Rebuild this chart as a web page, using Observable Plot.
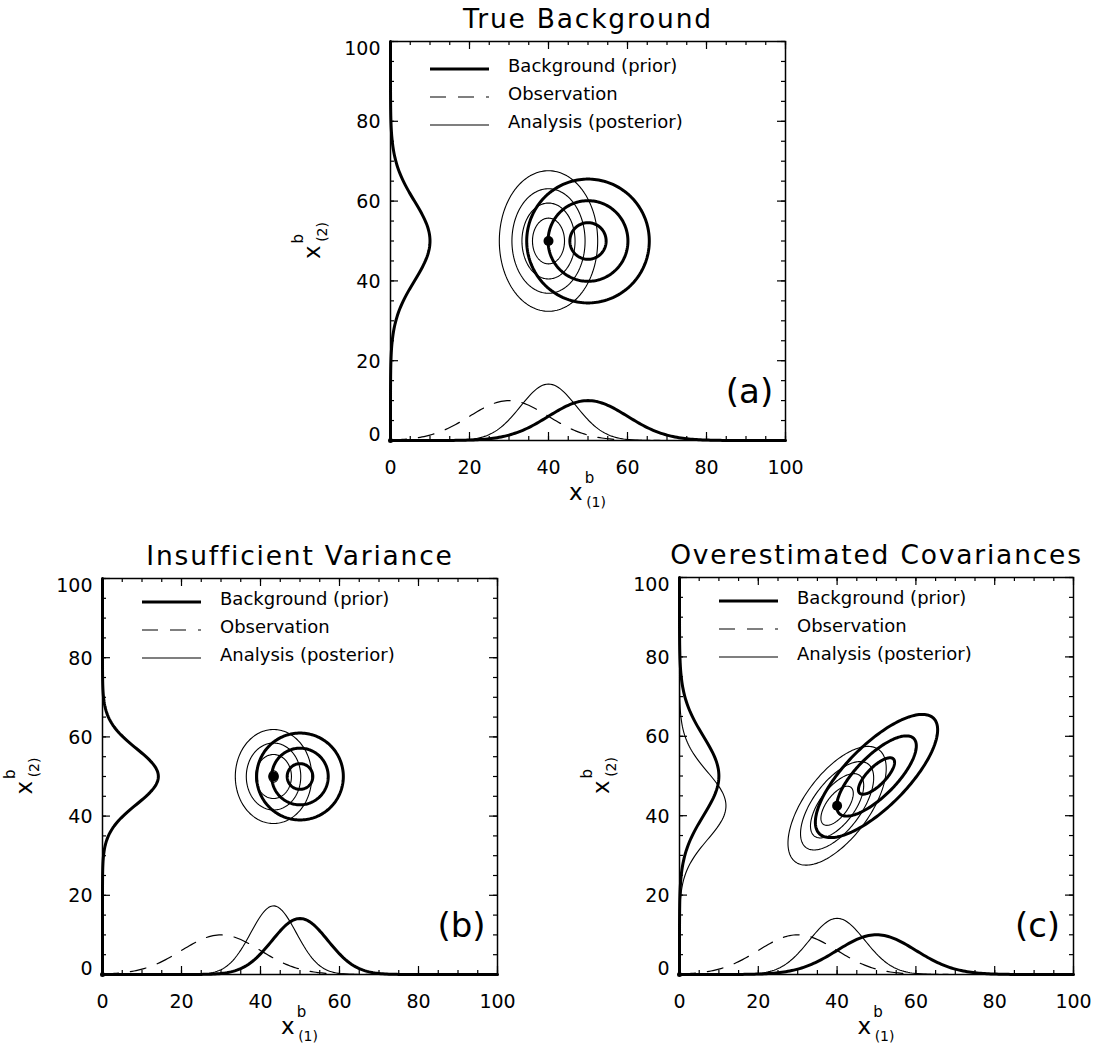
<!DOCTYPE html>
<html><head><meta charset="utf-8">
<script src="https://cdn.jsdelivr.net/npm/d3@7"></script>
<script src="https://cdn.jsdelivr.net/npm/@observablehq/plot@0.6"></script>
<style>
body{margin:0;background:#fff;}
#fig{position:relative;width:1100px;height:1052px;background:#fff;overflow:hidden;}
#fig svg{position:absolute;overflow:visible;}
</style></head><body><div id="fig"></div>
<script>
// ---------- data ----------
const panelIds = ["a", "b", "c"];
const panelTitles = ["True Background", "Insufficient Variance", "Overestimated Covariances"];
const panelLabels = ["(a)", "(b)", "(c)"];
const legendLabels = ["Background (prior)", "Observation", "Analysis (posterior)"];
const majorTicks = [0, 20, 40, 60, 80, 100];
const minorTicks = [0,5,10,15,20,25,30,35,40,45,50,55,60,65,70,75,80,85,90,95,100];

// background (prior) gaussian
const bgMeanX = [50, 50, 50];
const bgMeanY = [50, 50, 50];
const bgSigX = [10, 7.07, 10];
const bgSigY = [10, 7.07, 10];
const bgRho = [0, 0, 0.75];
// observation of x(1)
const obsMean = [30, 30, 30];
const obsSig = [10, 10, 10];
// analysis (posterior)
const anMeanX = [40, 43.3, 40];
const anMeanY = [50, 50, 42.5];
const anSigX = [7.07, 5.77, 7.07];
const anSigY = [10, 7.07, 8.48];
const anRho = [0, 0, 0.63];
// contour levels as fraction of the background peak density
const contourLevels = [0.3, 0.6, 0.9, 1.2];
// marginal curves: peak height = marginalScale / sigma
const marginalScale = 100;
const sampleGrid = d3.range(0, 100.001, 0.5);
const ellipseSteps = d3.range(0, 181);

// ---------- layout ----------
const layout = [
  {left: 390, top: 41, right: 785, bottom: 440, legendTop: 28},
  {left: 102, top: 578, right: 497, bottom: 974, legendTop: 24},
  {left: 679, top: 577, right: 1073, bottom: 974, legendTop: 24}
];
const FONT = "'DejaVu Sans', sans-serif";

function gauss(v, mu, s) {
  return (marginalScale / s) * Math.exp(-((v - mu) ** 2) / (2 * s * s));
}
function ellipses(mx, my, sx, sy, rho, peakRatio, kind) {
  const rows = [];
  for (const lev of contourLevels) {
    if (lev >= peakRatio) continue;
    const r = Math.sqrt(2 * Math.log(peakRatio / lev));
    for (const k of ellipseSteps) {
      const t = 2 * Math.PI * k / 180;
      rows.push({kind, level: lev,
        x: mx + r * sx * Math.cos(t),
        y: my + r * sy * (rho * Math.cos(t) + Math.sqrt(1 - rho * rho) * Math.sin(t))});
    }
  }
  return rows;
}

const fig = document.getElementById("fig");
panelIds.forEach((id, i) => {
  const Lo = layout[i];
  const fw = Lo.right - Lo.left, fh = Lo.bottom - Lo.top;
  const mL = 120, mR = 20, mT = 40, mB = 80;
  const W = mL + fw + mR, H = mT + fh + mB;

  const bgPeak = bgSigX[i] * bgSigY[i] * Math.sqrt(1 - bgRho[i] ** 2);
  const anPeak = anSigX[i] * anSigY[i] * Math.sqrt(1 - anRho[i] ** 2);
  const bgEll = ellipses(bgMeanX[i], bgMeanY[i], bgSigX[i], bgSigY[i], bgRho[i], 1, "bg");
  const anEll = ellipses(anMeanX[i], anMeanY[i], anSigX[i], anSigY[i], anRho[i], bgPeak / anPeak, "an");

  const xBg = sampleGrid.map(v => ({x: v, y: gauss(v, bgMeanX[i], bgSigX[i])}));
  const xObs = sampleGrid.map(v => ({x: v, y: gauss(v, obsMean[i], obsSig[i])}));
  const xAn = sampleGrid.map(v => ({x: v, y: gauss(v, anMeanX[i], anSigX[i])}));
  const yBg = sampleGrid.map(v => ({y: v, x: gauss(v, bgMeanY[i], bgSigY[i])}));
  const yAn = sampleGrid.map(v => ({y: v, x: gauss(v, anMeanY[i], anSigY[i])}));

  const axisOpts = {tickSize: 0, fontSize: 19, label: null, fill: "black"};
  const plot = Plot.plot({
    width: W, height: H,
    marginLeft: mL, marginRight: mR, marginTop: mT, marginBottom: mB,
    x: {domain: [0, 100]}, y: {domain: [0, 100]},
    style: {fontFamily: FONT, background: "transparent", color: "black"},
    marks: [
      Plot.line(anEll, {x: "x", y: "y", z: "level", stroke: "black", strokeWidth: 1.1}),
      Plot.line(bgEll, {x: "x", y: "y", z: "level", stroke: "black", strokeWidth: 3}),
      Plot.line(xObs, {x: "x", y: "y", stroke: "black", strokeWidth: 1.2, strokeDasharray: "16,12"}),
      Plot.line(xAn, {x: "x", y: "y", stroke: "black", strokeWidth: 1.1}),
      Plot.line(xBg, {x: "x", y: "y", stroke: "black", strokeWidth: 3}),
      Plot.line(yAn, {x: "x", y: "y", stroke: "black", strokeWidth: 1.1}),
      Plot.line(yBg, {x: "x", y: "y", stroke: "black", strokeWidth: 3}),
      Plot.dot([{x: anMeanX[i], y: anMeanY[i]}], {x: "x", y: "y", r: 5, fill: "black"}),
      Plot.dot([{x: majorTicks[0], y: majorTicks[0]}], {x: "x", y: "y", r: 2.5, fill: "black"}),
      Plot.frame({stroke: "black", strokeWidth: 1.5}),
      Plot.ruleX(majorTicks, {insetTop: fh - 8, stroke: "black", strokeWidth: 1.2}),
      Plot.ruleX(minorTicks, {insetTop: fh - 4, stroke: "black", strokeWidth: 1.2}),
      Plot.ruleX(majorTicks, {insetBottom: fh - 8, stroke: "black", strokeWidth: 1.2}),
      Plot.ruleX(minorTicks, {insetBottom: fh - 4, stroke: "black", strokeWidth: 1.2}),
      Plot.ruleY(majorTicks, {insetRight: fw - 8, stroke: "black", strokeWidth: 1.2}),
      Plot.ruleY(minorTicks, {insetRight: fw - 4, stroke: "black", strokeWidth: 1.2}),
      Plot.ruleY(majorTicks, {insetLeft: fw - 8, stroke: "black", strokeWidth: 1.2}),
      Plot.ruleY(minorTicks, {insetLeft: fw - 4, stroke: "black", strokeWidth: 1.2}),
      Plot.axisX(majorTicks, {...axisOpts, anchor: "bottom", tickPadding: 20}),
      Plot.axisY(majorTicks.slice(1, -1), {...axisOpts, anchor: "left", tickPadding: 10, dy: 1}),
      Plot.axisY(majorTicks.slice(0, 1), {...axisOpts, anchor: "left", tickPadding: 10, dy: -6}),
      Plot.axisY(majorTicks.slice(-1), {...axisOpts, anchor: "left", tickPadding: 10, dy: 7}),
      Plot.text([panelTitles[i]], {frameAnchor: "top", dy: -14, lineAnchor: "bottom", fontSize: 26.5, fill: "black"}),
      Plot.text([panelLabels[i]], {frameAnchor: "bottom-right", dx: -36, dy: -48, fontSize: 34, lineAnchor: "middle", textAnchor: "middle", fill: "black"})
    ]
  });
  plot.style.left = (Lo.left - mL) + "px";
  plot.style.top = (Lo.top - mT) + "px";
  const svg = d3.select(plot);
  // title letter spacing
  svg.selectAll("text").filter(function () { return this.textContent === panelTitles[i]; })
    .attr("letter-spacing", 1.8);

  // legend
  const leg = svg.append("g").attr("font-family", FONT).attr("font-size", 18).attr("text-anchor", "start");
  const legStyles = [{w: 3, dash: null}, {w: 1.2, dash: "16,12"}, {w: 1.1, dash: null}];
  legendLabels.forEach((lab, k) => {
    const yy = mT + Lo.legendTop + k * 28;
    leg.append("line").attr("x1", mL + 40).attr("x2", mL + 99).attr("y1", yy).attr("y2", yy)
      .attr("stroke", "black").attr("stroke-width", legStyles[k].w)
      .attr("stroke-dasharray", legStyles[k].dash);
    leg.append("text").attr("x", mL + 118).attr("y", yy + 3).attr("fill", "black")
      .attr("text-anchor", "start").text(lab);
  });

  // x axis label  x^b_(1)
  const xl = svg.append("text").attr("font-family", FONT).attr("fill", "black")
    .attr("text-anchor", "middle").attr("x", mL + fw / 2).attr("y", mT + fh + 60).attr("font-size", 23);
  xl.append("tspan").text("x");
  xl.append("tspan").attr("font-size", 15).attr("dx", 2).attr("dy", -17).text("b");
  xl.append("tspan").attr("font-size", 14).attr("dx", -8).attr("dy", 24).text("(1)");

  // y axis label  x^b_(2)
  const yl = svg.append("text").attr("font-family", FONT).attr("fill", "black")
    .attr("text-anchor", "middle").attr("font-size", 23)
    .attr("transform", `translate(${mL - 70},${mT + fh / 2}) rotate(-90)`);
  yl.append("tspan").text("x");
  yl.append("tspan").attr("font-size", 15).attr("dx", 2).attr("dy", -17).text("b");
  yl.append("tspan").attr("font-size", 14).attr("dx", -8).attr("dy", 24).text("(2)");

  fig.appendChild(plot);
});
</script></body></html>
